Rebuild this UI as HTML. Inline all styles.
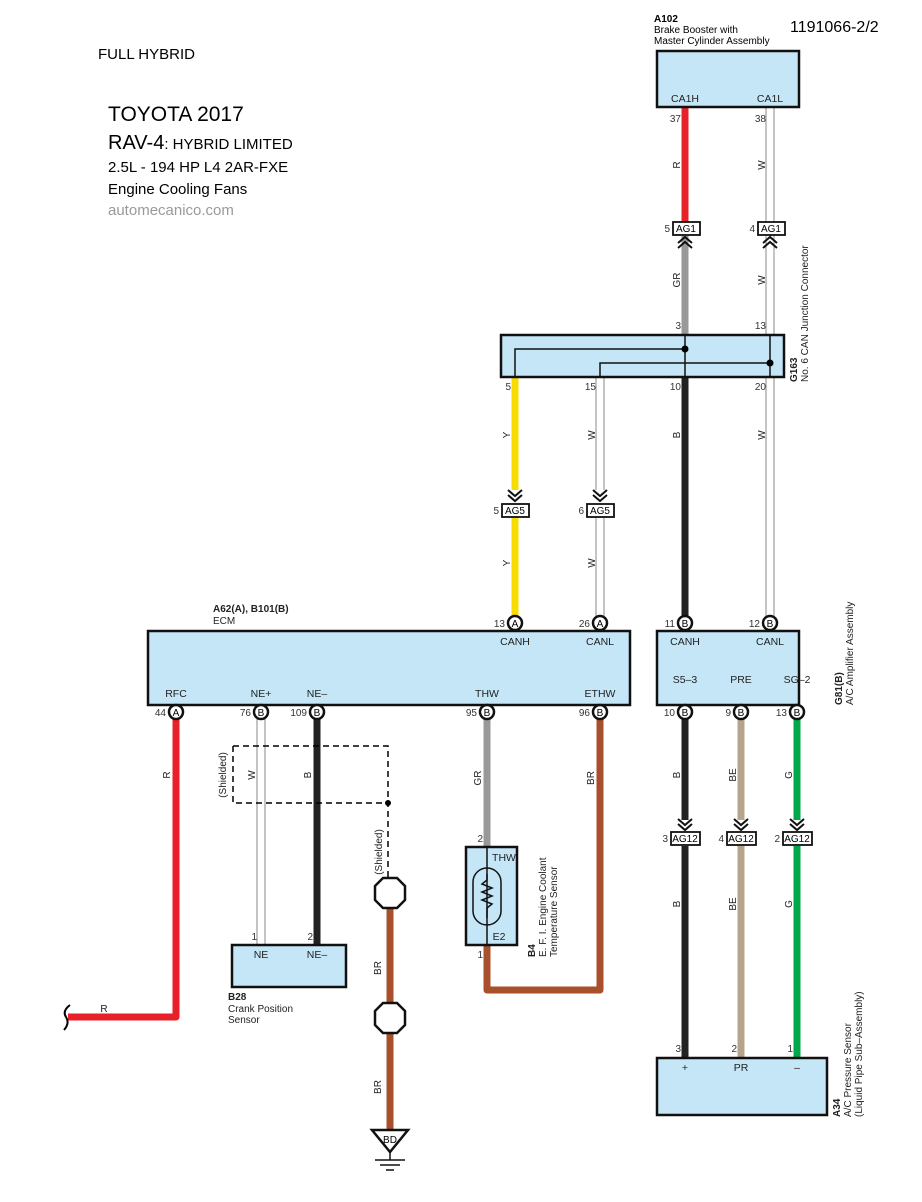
<!DOCTYPE html>
<html><head><meta charset="utf-8"><style>
html,body{margin:0;padding:0;background:#fff;}
svg{display:block;font-family:"Liberation Sans",Arial,sans-serif;}
</style></head><body>
<svg width="922" height="1202" viewBox="0 0 922 1202" xmlns="http://www.w3.org/2000/svg">
<g fill="#000">
<text x="98" y="59" font-size="15">FULL HYBRID</text>
<text x="108" y="121" font-size="21">TOYOTA 2017</text>
<text x="108" y="149" font-size="20">RAV-4<tspan font-size="15">: HYBRID LIMITED</tspan></text>
<text x="108" y="172" font-size="15">2.5L - 194 HP  L4 2AR-FXE</text>
<text x="108" y="194" font-size="15">Engine Cooling Fans</text>
<text x="108" y="215" font-size="15" fill="#999">automecanico.com</text>
<text x="790" y="32" font-size="16">1191066-2/2</text>
<text x="654" y="22" font-size="10" font-weight="bold">A102</text>
<text x="654" y="33" font-size="10">Brake Booster with</text>
<text x="654" y="44" font-size="10">Master Cylinder Assembly</text>
</g>

<!-- wires -->
<g fill="none" stroke-linecap="butt">
<line x1="685" y1="108" x2="685" y2="222" stroke="#e8202a" stroke-width="7"/>
<line x1="685" y1="236" x2="685" y2="336" stroke="#999" stroke-width="7"/>
<line x1="685" y1="377" x2="685" y2="618" stroke="#222" stroke-width="7"/>
<line x1="515" y1="377" x2="515" y2="490" stroke="#f7dc00" stroke-width="7"/>
<line x1="515" y1="517" x2="515" y2="617" stroke="#f7dc00" stroke-width="7"/>
<!-- white double wires -->
<g stroke="#888" stroke-width="9"><line x1="770" y1="108" x2="770" y2="222"/><line x1="770" y1="236" x2="770" y2="336"/><line x1="770" y1="377" x2="770" y2="617"/><line x1="600" y1="377" x2="600" y2="490"/><line x1="600" y1="517" x2="600" y2="617"/><line x1="261" y1="718" x2="261" y2="945"/></g>
<g stroke="#fff" stroke-width="7"><line x1="770" y1="108" x2="770" y2="222"/><line x1="770" y1="236" x2="770" y2="336"/><line x1="770" y1="377" x2="770" y2="617"/><line x1="600" y1="377" x2="600" y2="490"/><line x1="600" y1="517" x2="600" y2="617"/><line x1="261" y1="718" x2="261" y2="945"/></g>
<polyline points="176,718 176,1017 68,1017" stroke="#e8202a" stroke-width="7" stroke-linejoin="round"/>
<line x1="317" y1="718" x2="317" y2="945" stroke="#222" stroke-width="7"/>
<line x1="487" y1="718" x2="487" y2="847" stroke="#999" stroke-width="7"/>
<polyline points="600,718 600,990 487,990 487,945" stroke="#a84f2c" stroke-width="7" stroke-linejoin="round"/>
<line x1="390" y1="908" x2="390" y2="1003" stroke="#a84f2c" stroke-width="7"/>
<line x1="390" y1="1033" x2="390" y2="1130" stroke="#a84f2c" stroke-width="7"/>
<line x1="685" y1="718" x2="685" y2="820" stroke="#222" stroke-width="7"/>
<line x1="685" y1="846" x2="685" y2="1058" stroke="#222" stroke-width="7"/>
<line x1="741" y1="718" x2="741" y2="820" stroke="#b5a48c" stroke-width="7"/>
<line x1="741" y1="846" x2="741" y2="1058" stroke="#b5a48c" stroke-width="7"/>
<line x1="797" y1="718" x2="797" y2="820" stroke="#00a84a" stroke-width="7"/>
<line x1="797" y1="846" x2="797" y2="1058" stroke="#00a84a" stroke-width="7"/>
<path d="M70,1005 Q62,1011 66,1017 Q70,1023 64,1030" stroke="#000" stroke-width="2"/>
<!-- shield -->
<path d="M233,746 H388 V877 M233,746 V803 H388" stroke="#000" stroke-width="1.5" stroke-dasharray="6,4"/>
</g>
<circle cx="388" cy="803" r="3" fill="#000"/>

<!-- boxes -->
<g fill="#c5e6f7" stroke="#111" stroke-width="2.5">
<rect x="657" y="51" width="142" height="56"/>
<rect x="501" y="335" width="283" height="42"/>
<rect x="148" y="631" width="482" height="74"/>
<rect x="657" y="631" width="142" height="74"/>
<rect x="232" y="945" width="114" height="42"/>
<rect x="466" y="847" width="51" height="98"/>
<rect x="657" y="1058" width="170" height="57"/>
</g>
<!-- G163 internal -->
<g fill="none" stroke="#111" stroke-width="1.5">
<polyline points="515,377 515,349 685,349"/>
<line x1="685" y1="335" x2="685" y2="377"/>
<polyline points="600,377 600,363 770,363"/>
<line x1="770" y1="335" x2="770" y2="377"/>
<line x1="487" y1="847" x2="487" y2="945"/>
<rect x="473" y="868" width="28" height="57" rx="14"/>
<polyline points="487,874 487,880 482,884 492,888 482,892 492,896 482,900 492,904 487,908 487,918"/>
</g>
<circle cx="685" cy="349" r="3.5"/><circle cx="770" cy="363" r="3.5"/>

<!-- octagons -->
<g fill="#fff" stroke="#111" stroke-width="2.5">
<polygon points="383,878 397,878 405,886 405,900 397,908 383,908 375,900 375,886"/>
<polygon points="383,1003 397,1003 405,1011 405,1025 397,1033 383,1033 375,1025 375,1011"/>
<polygon points="372,1130 408,1130 390,1152"/>
</g>
<g stroke="#111" stroke-width="1.5"><line x1="390" y1="1152" x2="390" y2="1160"/><line x1="375" y1="1160" x2="405" y2="1160"/><line x1="380" y1="1165" x2="400" y2="1165"/><line x1="386" y1="1170" x2="394" y2="1170"/></g>
<text x="390" y="1143" font-size="10" text-anchor="middle">BD</text>

<!-- chevrons -->
<g fill="none" stroke="#111" stroke-width="2">
<path d="M678,243 l7,-6 l7,6 M678,248 l7,-6 l7,6"/>
<path d="M763,243 l7,-6 l7,6 M763,248 l7,-6 l7,6"/>
<path d="M508,490 l7,6 l7,-6 M508,495 l7,6 l7,-6"/>
<path d="M593,490 l7,6 l7,-6 M593,495 l7,6 l7,-6"/>
<path d="M678,819 l7,6 l7,-6 M678,824 l7,6 l7,-6"/>
<path d="M734,819 l7,6 l7,-6 M734,824 l7,6 l7,-6"/>
<path d="M790,819 l7,6 l7,-6 M790,824 l7,6 l7,-6"/>
</g>
<!-- connector boxes -->
<g fill="#fff" stroke="#111" stroke-width="1.8">
<rect x="673" y="222" width="27" height="13"/><rect x="758" y="222" width="27" height="13"/>
<rect x="502" y="504" width="27" height="13"/><rect x="587" y="504" width="27" height="13"/>
<rect x="671" y="832" width="29" height="13"/><rect x="727" y="832" width="29" height="13"/><rect x="783" y="832" width="29" height="13"/>
</g>
<g font-size="10" text-anchor="middle">
<text x="686" y="232">AG1</text><text x="771" y="232">AG1</text>
<text x="515" y="514">AG5</text><text x="600" y="514">AG5</text>
<text x="685" y="842">AG12</text><text x="741" y="842">AG12</text><text x="797" y="842">AG12</text>
</g>
<g font-size="10" text-anchor="end" fill="#333">
<text x="670" y="232">5</text><text x="755" y="232">4</text>
<text x="499" y="514">5</text><text x="584" y="514">6</text>
<text x="668" y="842">3</text><text x="724" y="842">4</text><text x="780" y="842">2</text>
<text x="681" y="122">37</text><text x="766" y="122">38</text>
<text x="681" y="329">3</text><text x="766" y="329">13</text>
<text x="511" y="390">5</text><text x="596" y="390">15</text><text x="681" y="390">10</text><text x="766" y="390">20</text>
<text x="505" y="627">13</text><text x="590" y="627">26</text>
<text x="675" y="627">11</text><text x="760" y="627">12</text>
<text x="166" y="716">44</text><text x="251" y="716">76</text><text x="307" y="716">109</text>
<text x="477" y="716">95</text><text x="590" y="716">96</text>
<text x="675" y="716">10</text><text x="731" y="716">9</text><text x="787" y="716">13</text>
<text x="257" y="940">1</text><text x="313" y="940">2</text>
<text x="483" y="842">2</text><text x="483" y="958">1</text>
<text x="681" y="1052">3</text><text x="737" y="1052">2</text><text x="793" y="1052">1</text>
</g>
<!-- connector circles -->
<g fill="#fff" stroke="#111" stroke-width="2.5">
<circle cx="515" cy="623" r="7"/><circle cx="600" cy="623" r="7"/><circle cx="685" cy="623" r="7"/><circle cx="770" cy="623" r="7"/>
<circle cx="176" cy="712" r="7"/><circle cx="261" cy="712" r="7"/><circle cx="317" cy="712" r="7"/><circle cx="487" cy="712" r="7"/><circle cx="600" cy="712" r="7"/>
<circle cx="685" cy="712" r="7"/><circle cx="741" cy="712" r="7"/><circle cx="797" cy="712" r="7"/>
</g>
<g font-size="10" text-anchor="middle">
<text x="515" y="627">A</text><text x="600" y="627">A</text><text x="685" y="627">B</text><text x="770" y="627">B</text>
<text x="176" y="716">A</text><text x="261" y="716">B</text><text x="317" y="716">B</text><text x="487" y="716">B</text><text x="600" y="716">B</text>
<text x="685" y="716">B</text><text x="741" y="716">B</text><text x="797" y="716">B</text>
</g>
<!-- box labels -->
<g font-size="10.5" text-anchor="middle" fill="#222">
<text x="685" y="102">CA1H</text><text x="770" y="102">CA1L</text>
<text x="515" y="645">CANH</text><text x="600" y="645">CANL</text>
<text x="176" y="697">RFC</text><text x="261" y="697">NE+</text><text x="317" y="697">NE–</text><text x="487" y="697">THW</text><text x="600" y="697">ETHW</text>
<text x="685" y="645">CANH</text><text x="770" y="645">CANL</text>
<text x="685" y="683">S5–3</text><text x="741" y="683">PRE</text><text x="797" y="683">SG–2</text>
<text x="261" y="958">NE</text><text x="317" y="958">NE–</text>
<text x="504" y="861">THW</text><text x="499" y="940">E2</text>
<text x="685" y="1071">+</text><text x="741" y="1071">PR</text><text x="797" y="1071">–</text>
</g>
<g font-size="10" fill="#222">
<text x="213" y="612" font-weight="bold">A62(A), B101(B)</text>
<text x="213" y="624">ECM</text>
<text x="228" y="1000" font-weight="bold">B28</text>
<text x="228" y="1012">Crank Position</text>
<text x="228" y="1023">Sensor</text>
</g>
<!-- rotated labels -->
<g font-size="10" fill="#222" text-anchor="middle">
<text transform="translate(680,165) rotate(-90)">R</text>
<text transform="translate(765,165) rotate(-90)">W</text>
<text transform="translate(680,280) rotate(-90)">GR</text>
<text transform="translate(765,280) rotate(-90)">W</text>
<text transform="translate(510,435) rotate(-90)">Y</text>
<text transform="translate(595,435) rotate(-90)">W</text>
<text transform="translate(680,435) rotate(-90)">B</text>
<text transform="translate(765,435) rotate(-90)">W</text>
<text transform="translate(510,563) rotate(-90)">Y</text>
<text transform="translate(595,563) rotate(-90)">W</text>
<text transform="translate(170,775) rotate(-90)">R</text>
<text x="104" y="1012">R</text>
<text transform="translate(255,775) rotate(-90)">W</text>
<text transform="translate(311,775) rotate(-90)">B</text>
<text transform="translate(226,775) rotate(-90)">(Shielded)</text>
<text transform="translate(382,852) rotate(-90)">(Shielded)</text>
<text transform="translate(481,778) rotate(-90)">GR</text>
<text transform="translate(594,778) rotate(-90)">BR</text>
<text transform="translate(381,968) rotate(-90)">BR</text>
<text transform="translate(381,1087) rotate(-90)">BR</text>
<text transform="translate(680,904) rotate(-90)">B</text>
<text transform="translate(736,904) rotate(-90)">BE</text>
<text transform="translate(792,904) rotate(-90)">G</text>
<text transform="translate(680,775) rotate(-90)">B</text>
<text transform="translate(736,775) rotate(-90)">BE</text>
<text transform="translate(792,775) rotate(-90)">G</text>
</g>
<g font-size="10" fill="#222">
<text transform="translate(797,382) rotate(-90)" font-weight="bold">G163</text>
<text transform="translate(808,382) rotate(-90)">No. 6 CAN Junction Connector</text>
<text transform="translate(842,705) rotate(-90)" font-weight="bold">G81(B)</text>
<text transform="translate(853,705) rotate(-90)">A/C Amplifier Assembly</text>
<text transform="translate(535,957) rotate(-90)" font-weight="bold">B4</text>
<text transform="translate(546,957) rotate(-90)">E. F. I.  Engine Coolant</text>
<text transform="translate(557,957) rotate(-90)">Temperature Sensor</text>
<text transform="translate(840,1117) rotate(-90)" font-weight="bold">A34</text>
<text transform="translate(851,1117) rotate(-90)">A/C Pressure Sensor</text>
<text transform="translate(862,1117) rotate(-90)">(Liquid Pipe Sub–Assembly)</text>
</g>
</svg>
</body></html>
